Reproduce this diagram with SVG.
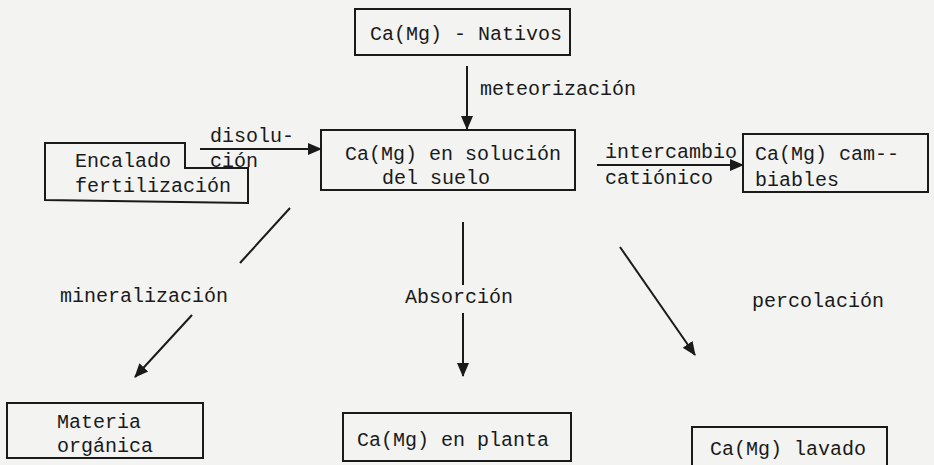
<svg xmlns="http://www.w3.org/2000/svg" width="934" height="465" viewBox="0 0 934 465">
<style>
.bg{fill:#f3f3f1}
.box{fill:none;stroke:#1a1a1a;stroke-width:2}
.t{font-family:"Liberation Mono","Courier New",monospace;font-size:20px;fill:#1a1a1a}
.c{fill:none;stroke:#1a1a1a;stroke-width:2}
</style>
<defs>
<marker id="ah" markerUnits="userSpaceOnUse" markerWidth="14" markerHeight="14" viewBox="0 0 14 14" refX="13" refY="7" orient="auto">
<path d="M0,1 L14,7 L0,13 Z" fill="#1a1a1a"/>
</marker>
</defs>
<rect class="bg" x="0" y="0" width="934" height="465"/>
<g id="nativos">
<rect class="box" x="355" y="9" width="215" height="46"/>
<text class="t" x="370" y="40">Ca(Mg) - Nativos</text>
</g>
<g id="solucion">
<rect class="box" x="321" y="130" width="254" height="60"/>
<text class="t" x="345" y="160">Ca(Mg) en solución</text>
<text class="t" x="382" y="184">del suelo</text>
</g>
<g id="encalado">
<path class="box" d="M45,143 L185,143 L185,168 L248,168 L248,203 L45,200 Z"/>
<text class="t" x="75" y="167">Encalado</text>
<text class="t" x="75" y="192">fertilización</text>
</g>
<g id="cambiables">
<rect class="box" x="743" y="134" width="185" height="58"/>
<text class="t" x="755" y="160">Ca(Mg) cam--</text>
<text class="t" x="755" y="186">biables</text>
</g>
<g id="materia">
<rect class="box" x="7" y="403" width="196" height="55"/>
<text class="t" x="57" y="428">Materia</text>
<text class="t" x="57" y="452">orgánica</text>
</g>
<g id="planta">
<rect class="box" x="343" y="413" width="228" height="48"/>
<text class="t" x="357" y="446">Ca(Mg) en planta</text>
</g>
<g id="lavado">
<rect class="box" x="692" y="427" width="195" height="40"/>
<text class="t" x="710" y="455">Ca(Mg) lavado</text>
</g>
<g id="connectors">
<line class="c" x1="467" y1="66" x2="467" y2="129" marker-end="url(#ah)"/>
<line class="c" x1="200" y1="149" x2="321" y2="149" marker-end="url(#ah)"/>
<line class="c" x1="597" y1="165" x2="743" y2="165" marker-end="url(#ah)"/>
<line class="c" x1="290" y1="208" x2="240" y2="263"/>
<line class="c" x1="192" y1="315" x2="135" y2="377" marker-end="url(#ah)"/>
<line class="c" x1="463" y1="222" x2="463" y2="285"/>
<line class="c" x1="463" y1="313" x2="463" y2="376" marker-end="url(#ah)"/>
<line class="c" x1="620" y1="247" x2="695" y2="355" marker-end="url(#ah)"/>
</g>
<g id="labels">
<text class="t" x="480" y="95">meteorización</text>
<text class="t" x="210" y="142">disolu-</text>
<text class="t" x="210" y="167">ción</text>
<text class="t" x="605" y="158">intercambio</text>
<text class="t" x="605" y="184">catiónico</text>
<text class="t" x="60" y="302">mineralización</text>
<text class="t" x="405" y="303">Absorción</text>
<text class="t" x="752" y="307">percolación</text>
</g>
</svg>
